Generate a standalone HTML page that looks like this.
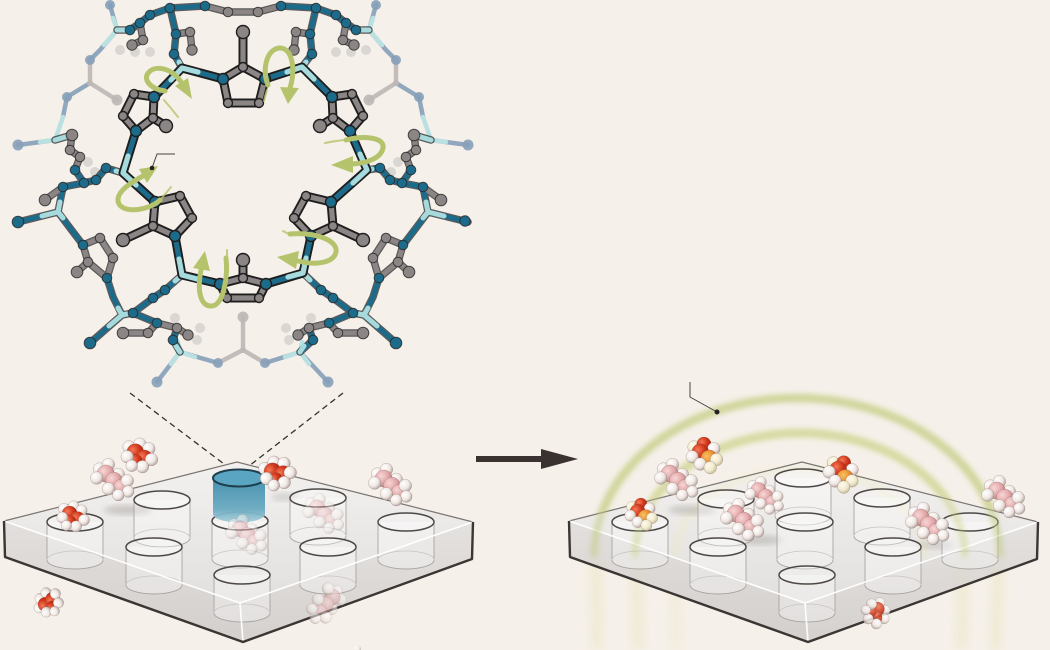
<!DOCTYPE html>
<html><head><meta charset="utf-8"><style>
html,body{margin:0;padding:0;background:#f6f0ea;overflow:hidden}
svg{display:block}
</style></head><body>
<svg width="1050" height="650" viewBox="0 0 1050 650" xmlns="http://www.w3.org/2000/svg">
<defs>
 <radialGradient id="gO" cx="35%" cy="35%" r="70%"><stop offset="0" stop-color="#f47a58"/><stop offset=".55" stop-color="#d2361a"/><stop offset="1" stop-color="#9a2210"/></radialGradient>
 <radialGradient id="gH" cx="35%" cy="35%" r="70%"><stop offset="0" stop-color="#ffffff"/><stop offset=".6" stop-color="#f0e8e4"/><stop offset="1" stop-color="#b4a6a1"/></radialGradient>
 <radialGradient id="gP" cx="35%" cy="35%" r="70%"><stop offset="0" stop-color="#f8d6d6"/><stop offset=".6" stop-color="#e2a7a9"/><stop offset="1" stop-color="#b27a7c"/></radialGradient>
 <radialGradient id="gY" cx="35%" cy="35%" r="70%"><stop offset="0" stop-color="#f9c462"/><stop offset=".6" stop-color="#e8862a"/><stop offset="1" stop-color="#bb5812"/></radialGradient>
 <radialGradient id="gHy" cx="35%" cy="35%" r="70%"><stop offset="0" stop-color="#fffbea"/><stop offset=".6" stop-color="#f1ead0"/><stop offset="1" stop-color="#c6bc96"/></radialGradient>
 <linearGradient id="topF" x1="0" y1="0" x2="0" y2="1"><stop offset="0" stop-color="#f3f1ef"/><stop offset="1" stop-color="#e2e0de"/></linearGradient>
 <linearGradient id="sideL" x1="0" y1="0" x2="0" y2="1"><stop offset="0" stop-color="#e2dfdd"/><stop offset="1" stop-color="#d3cfcd"/></linearGradient>
 <linearGradient id="sideR" x1="0" y1="0" x2="0" y2="1"><stop offset="0" stop-color="#e4e1df"/><stop offset="1" stop-color="#d5d1cf"/></linearGradient>
 <linearGradient id="blueC" x1="0" y1="0" x2="0" y2="1"><stop offset="0" stop-color="#3f8dac"/><stop offset=".7" stop-color="#6aaac2"/><stop offset="1" stop-color="#a9cfdb"/></linearGradient>
 <filter id="blur3" x="-20%" y="-20%" width="140%" height="140%"><feGaussianBlur stdDeviation="3"/></filter>
 <filter id="blur5" x="-20%" y="-20%" width="140%" height="140%"><feGaussianBlur stdDeviation="5"/></filter>
 <g id="cyl">
  <path d="M-28,0 L-28,38 A28,9 0 0 0 28,38 L28,0" fill="rgba(255,255,255,0.32)" stroke="#a8a4a2" stroke-width="0.9"/>
  <path d="M-28,38 A28,9 0 0 1 28,38" fill="none" stroke="#c8c4c2" stroke-width="0.8"/>
  <ellipse cx="0" cy="0" rx="28" ry="9" fill="rgba(255,255,255,0.3)" stroke="#4d4846" stroke-width="1.5"/>
 </g>
 <g id="mA" stroke="#6a4a44" stroke-width="0.5" stroke-opacity="0.45">
  <circle cx="-10" cy="-9" r="7" fill="url(#gH)"/>
  <circle cx="2" cy="-12" r="7" fill="url(#gH)"/>
  <circle cx="12" cy="-7" r="7" fill="url(#gH)"/>
  <circle cx="-3" cy="-3" r="9.5" fill="url(#gO)"/>
  <circle cx="7" cy="4" r="9.5" fill="url(#gO)"/>
  <circle cx="-3" cy="7" r="8" fill="url(#gO)"/>
  <circle cx="-12" cy="2" r="7" fill="url(#gH)"/>
  <circle cx="15" cy="5" r="7" fill="url(#gH)"/>
  <circle cx="5" cy="13" r="7" fill="url(#gH)"/>
  <circle cx="-7" cy="12" r="6.5" fill="url(#gH)"/>
 </g>
 <g id="mB" stroke="#6a4a44" stroke-width="0.5" stroke-opacity="0.45">
  <circle cx="-14" cy="-10" r="7" fill="url(#gH)"/>
  <circle cx="-4" cy="-15" r="7" fill="url(#gH)"/>
  <circle cx="7" cy="-4" r="7" fill="url(#gH)"/>
  <circle cx="-7" cy="-5" r="9.5" fill="url(#gP)"/>
  <circle cx="2" cy="3" r="9.5" fill="url(#gP)"/>
  <circle cx="10" cy="10" r="8.5" fill="url(#gP)"/>
  <circle cx="-17" cy="0" r="7" fill="url(#gH)"/>
  <circle cx="17" cy="3" r="7" fill="url(#gH)"/>
  <circle cx="-4" cy="12" r="7" fill="url(#gH)"/>
  <circle cx="18" cy="15" r="6.5" fill="url(#gH)"/>
  <circle cx="7" cy="19" r="6.5" fill="url(#gH)"/>
 </g>
 <g id="mC" stroke="#6a4a44" stroke-width="0.5" stroke-opacity="0.45">
  <circle cx="-10" cy="-9" r="7" fill="url(#gHy)"/>
  <circle cx="1" cy="-12" r="8" fill="url(#gO)"/>
  <circle cx="12" cy="-7" r="7" fill="url(#gH)"/>
  <circle cx="-3" cy="-3" r="9.5" fill="url(#gO)"/>
  <circle cx="7" cy="4" r="9.5" fill="url(#gY)"/>
  <circle cx="-12" cy="2" r="7" fill="url(#gH)"/>
  <circle cx="15" cy="5" r="7" fill="url(#gHy)"/>
  <circle cx="-3" cy="10" r="7" fill="url(#gH)"/>
  <circle cx="8" cy="14" r="7" fill="url(#gHy)"/>
 </g>
 <g id="slab">
  <polygon points="4,521 240,603 243,642 5,557" fill="url(#sideL)"/>
  <polygon points="240,603 473,522 472,559 243,642" fill="url(#sideR)"/>
  <polygon points="4,521 237,462 473,522 240,603" fill="url(#topF)"/>
 </g>
 <g id="slabEdges">
  <path d="M4,521 L237,462 L473,522" fill="none" stroke="#7a7472" stroke-width="1.2"/>
  <path d="M4,521 L240,603 L473,522 M240,603 L243,642" fill="none" stroke="#ffffff" stroke-width="1.6" opacity="0.95"/>
  <path d="M4,521 L5,557 L243,642 L472,559 L473,522" fill="none" stroke="#3b3533" stroke-width="2.4" stroke-linejoin="round"/>
 </g>
</defs>

<rect width="1050" height="650" fill="#f6f0ea"/>

<!-- ===== BACK LAYER of framework ===== -->
<g fill="none" stroke-linecap="round" stroke-linejoin="round" stroke-width="4.5" opacity="0.9">
 <path stroke="#87a0b9" d="M117,30L100,50L90,60 M90,83L67,97L63,117 M55,140L18,145 M117,30L110,5 M369,30L386,50L396,60 M396,83L419,97L423,117 M431,140L468,145 M369,30L376,5 M180,352L218,363 M265,363L300,352 M180,352L157,382 M300,352L328,382"/>
 <path stroke="#bdb8b6" d="M90,60L90,83L117,100 M396,60L396,83L369,100 M218,363L243,350L265,363 M243,350L243,317"/>
 <path stroke="#b4e0e2" d="M117,30L104,45 M117,30L113,18 M63,117L55,140L40,142 M369,30L382,45 M369,30L373,18 M423,117L431,140L446,142 M180,352L195,357 M180,352L171,364 M180,352L178,342 M300,352L285,357 M300,352L309,364 M300,352L302,342"/>
</g>
<g opacity="0.9">
 <g fill="#87a0b9"><circle cx="90" cy="60" r="5"/><circle cx="67" cy="97" r="5"/><circle cx="18" cy="145" r="5.5"/><circle cx="110" cy="5" r="5"/><circle cx="396" cy="60" r="5"/><circle cx="419" cy="97" r="5"/><circle cx="468" cy="145" r="5.5"/><circle cx="376" cy="5" r="5"/><circle cx="218" cy="363" r="5"/><circle cx="265" cy="363" r="5"/><circle cx="157" cy="382" r="5.5"/><circle cx="328" cy="382" r="5.5"/></g>
 <g fill="#bdb8b6"><circle cx="117" cy="100" r="5.5"/><circle cx="369" cy="100" r="5.5"/><circle cx="243" cy="317" r="5.5"/><circle cx="90" cy="83" r="3"/><circle cx="396" cy="83" r="3"/><circle cx="243" cy="350" r="3"/></g>
</g>
<g fill="#c9c5c3" opacity="0.6">
 <circle cx="120" cy="50" r="5"/><circle cx="135" cy="52" r="5"/><circle cx="150" cy="52" r="5"/>
 <circle cx="336" cy="52" r="5"/><circle cx="351" cy="52" r="5"/><circle cx="366" cy="50" r="5"/>
 <circle cx="175" cy="318" r="5"/><circle cx="197" cy="340" r="5"/><circle cx="200" cy="328" r="5"/>
 <circle cx="311" cy="318" r="5"/><circle cx="289" cy="340" r="5"/><circle cx="286" cy="328" r="5"/>
 <circle cx="88" cy="162" r="5"/><circle cx="95" cy="172" r="5"/><circle cx="398" cy="162" r="5"/><circle cx="391" cy="172" r="5"/>
</g>

<!-- ===== MID LAYER ===== -->
<g fill="none" stroke-linecap="round" stroke-linejoin="round">
 <path stroke="#2a2a2a" stroke-opacity="0.75" stroke-width="7.5" d="M182,68L174,54L176,34L170,8L150,15L140,23L130,30L117,30 M302,67L312,54L310,34L316,8L336,15L346,23L356,30L369,30 M170,8L205,6L228,12L258,12L281,6L316,8 M176,34L190,32L192,50 M310,34L296,32L294,50 M140,23L143,40L132,45 M346,23L343,40L354,45 M123,173L106,168L96,180L84,183L75,170L80,157L70,150L72,135L55,140 M84,183L63,187L58,212 M63,187L45,200 M58,212L18,222 M58,212L70,228L83,245L100,238L113,258L107,278L88,262L83,245 M88,262L77,272 M107,278L113,297L122,315 M122,315L90,343 M122,315L133,313L153,298L165,290L182,275 M133,313L157,323L148,333L123,333 M157,323L177,328L188,335 M177,328L173,340L180,352 M367,170L380,168L390,180L402,183L411,170L406,157L416,150L414,135L431,140 M402,183L423,187L428,212 M423,187L441,200 M428,212L468,222 M428,212L416,228L403,245L386,238L373,258L379,278L398,262L403,245 M398,262L409,272 M379,278L373,297L364,315 M364,315L396,343 M364,315L353,313L333,298L321,290L303,273 M353,313L329,323L338,333L363,333 M329,323L309,328L298,335 M309,328L313,340L300,352"/>
 <path stroke="#1d6b8a" stroke-width="5" d="M182,68L174,54L176,34L170,8L150,15L140,23L130,30 M302,67L312,54L310,34L316,8L336,15L346,23L356,30 M170,8L205,6 M281,6L316,8 M123,173L106,168L96,180L84,183L75,170 M84,183L63,187L58,212 M58,212L18,222 M58,212L70,228L83,245 M107,278L113,297L122,315 M122,315L90,343 M122,315L133,313L153,298L165,290L182,275 M133,313L157,323 M177,328L173,340L180,352 M367,170L380,168L390,180L402,183L411,170 M402,183L423,187L428,212 M428,212L468,222 M428,212L416,228L403,245 M379,278L373,297L364,315 M364,315L396,343 M364,315L353,313L333,298L321,290L303,273 M353,313L329,323 M309,328L313,340L300,352"/>
 <path stroke="#8b8685" stroke-width="5" d="M176,34L190,32L192,50 M310,34L296,32L294,50 M140,23L143,40L132,45 M346,23L343,40L354,45 M205,6L228,12L258,12L281,6 M75,170L80,157L70,150L72,135 M63,187L45,200 M83,245L100,238L113,258L107,278L88,262L83,245 M88,262L77,272 M157,323L148,333L123,333 M157,323L177,328L188,335 M411,170L406,157L416,150L414,135 M423,187L441,200 M403,245L386,238L373,258L379,278L398,262L403,245 M398,262L409,272 M329,323L338,333L363,333 M329,323L309,328L298,335"/>
 <path stroke="#a6dadd" stroke-width="5" d="M130,30L117,30 M356,30L369,30 M72,135L55,140 M414,135L431,140 M60,202L58,212L42,216 M58,212L63,218 M118,308L122,315L109,326 M122,315L127,314 M426,202L428,212L444,216 M428,212L423,218 M368,308L364,315L377,326 M364,315L359,314 M176,346L180,352 M304,346L300,352 M179,62L182,68 M306,62L302,67 M372,169L367,170 M310,280L303,273 M175,281L182,275 M116,171L123,173"/>
</g>
<g stroke="#262626" stroke-width="1" stroke-opacity="0.8">
 <g fill="#1d6b8a">
  <circle cx="174" cy="54" r="4.8"/><circle cx="176" cy="34" r="4.8"/><circle cx="170" cy="8" r="4.8"/><circle cx="312" cy="54" r="4.8"/><circle cx="310" cy="34" r="4.8"/><circle cx="316" cy="8" r="4.8"/><circle cx="150" cy="15" r="4.8"/><circle cx="140" cy="23" r="4.8"/><circle cx="130" cy="30" r="4.8"/><circle cx="336" cy="15" r="4.8"/><circle cx="346" cy="23" r="4.8"/><circle cx="356" cy="30" r="4.8"/><circle cx="205" cy="6" r="4.8"/><circle cx="281" cy="6" r="4.8"/>
  <circle cx="106" cy="168" r="4.8"/><circle cx="96" cy="180" r="4.8"/><circle cx="84" cy="183" r="4.8"/><circle cx="75" cy="170" r="4.8"/><circle cx="63" cy="187" r="4.8"/><circle cx="18" cy="222" r="5.8"/><circle cx="83" cy="245" r="4.8"/><circle cx="107" cy="278" r="4.8"/><circle cx="90" cy="343" r="5.8"/><circle cx="133" cy="313" r="4.8"/><circle cx="153" cy="298" r="4.8"/><circle cx="165" cy="290" r="4.8"/><circle cx="157" cy="323" r="4.8"/><circle cx="173" cy="340" r="4.8"/>
  <circle cx="380" cy="168" r="4.8"/><circle cx="390" cy="180" r="4.8"/><circle cx="402" cy="183" r="4.8"/><circle cx="411" cy="170" r="4.8"/><circle cx="423" cy="187" r="4.8"/><circle cx="465" cy="221" r="5.2"/><circle cx="403" cy="245" r="4.8"/><circle cx="379" cy="278" r="4.8"/><circle cx="396" cy="343" r="5.8"/><circle cx="353" cy="313" r="4.8"/><circle cx="333" cy="298" r="4.8"/><circle cx="321" cy="290" r="4.8"/><circle cx="329" cy="323" r="4.8"/><circle cx="313" cy="340" r="4.8"/>
 </g>
 <g fill="#8b8685">
  <circle cx="190" cy="32" r="4.8"/><circle cx="192" cy="50" r="5.2"/><circle cx="296" cy="32" r="4.8"/><circle cx="294" cy="50" r="5.2"/><circle cx="143" cy="40" r="4.8"/><circle cx="132" cy="45" r="5.2"/><circle cx="343" cy="40" r="4.8"/><circle cx="354" cy="45" r="5.2"/><circle cx="228" cy="12" r="4.8"/><circle cx="258" cy="12" r="4.8"/>
  <circle cx="80" cy="157" r="4.8"/><circle cx="70" cy="150" r="4.8"/><circle cx="72" cy="135" r="5.8"/><circle cx="45" cy="200" r="5.8"/><circle cx="100" cy="238" r="4.8"/><circle cx="113" cy="258" r="4.8"/><circle cx="88" cy="262" r="4.8"/><circle cx="77" cy="272" r="5.8"/><circle cx="148" cy="333" r="4.8"/><circle cx="123" cy="333" r="5.8"/><circle cx="177" cy="328" r="4.8"/><circle cx="188" cy="335" r="5.2"/>
  <circle cx="406" cy="157" r="4.8"/><circle cx="416" cy="150" r="4.8"/><circle cx="414" cy="135" r="5.8"/><circle cx="441" cy="200" r="5.8"/><circle cx="386" cy="238" r="4.8"/><circle cx="373" cy="258" r="4.8"/><circle cx="398" cy="262" r="4.8"/><circle cx="409" cy="272" r="5.8"/><circle cx="338" cy="333" r="4.8"/><circle cx="363" cy="333" r="5.8"/><circle cx="309" cy="328" r="4.8"/><circle cx="298" cy="335" r="5.2"/>
 </g>
</g>

<!-- ===== FRONT RING ===== -->
<g fill="none" stroke-linecap="round" stroke-linejoin="round">
 <path stroke="#1e1e1e" stroke-width="9" d="M182,68L223,79 M302,67L265,79 M302,67L332,97 M350,131L367,170 M182,68L154,97 M136,131L123,173 M367,170L331,202 M311,236L303,273 M123,173L155,202 M175,236L182,275 M182,275L220,284 M266,284L303,273 M223,79L243,67L265,79L259,103L228,103Z M243,67L243,32 M332,97L352,94L363,116L350,131L333,118Z M333,118L320,126 M154,97L134,94L123,116L136,131L153,118Z M153,118L166,126 M331,202L333,226L311,236L294,218L306,196Z M333,226L363,240 M155,202L153,226L175,236L192,218L180,196Z M153,226L123,240 M220,284L243,278L266,284L259,298L227,298Z M243,278L243,260"/>
 <path stroke="#8b8685" stroke-width="5.2" d="M223,79L243,67L265,79L259,103L228,103Z M243,67L243,32 M332,97L352,94L363,116L350,131L333,118Z M333,118L320,126 M154,97L134,94L123,116L136,131L153,118Z M153,118L166,126 M331,202L333,226L311,236L294,218L306,196Z M333,226L363,240 M155,202L153,226L175,236L192,218L180,196Z M153,226L123,240 M220,284L243,278L266,284L259,298L227,298Z M243,278L243,260"/>
 <path stroke="#1d6b8a" stroke-width="5.2" d="M182,68L223,79 M302,67L265,79 M302,67L332,97 M350,131L367,170 M182,68L154,97 M136,131L123,173 M367,170L331,202 M311,236L303,273 M123,173L155,202 M175,236L182,275 M182,275L220,284 M266,284L303,273"/>
 <path stroke="#a6dadd" stroke-width="5.2" d="M198,72L182,68L171,80 M287,72L302,67L314,79 M360,154L367,170L353,183 M306,258L303,273L288,277 M179,259L182,275L197,279 M128,156L123,173L136,185"/>
</g>
<g stroke="#1e1e1e" stroke-width="1.4">
 <g fill="#1d6b8a">
  <circle cx="223" cy="79" r="5.5"/><circle cx="265" cy="79" r="5.5"/><circle cx="332" cy="97" r="5.5"/><circle cx="350" cy="131" r="5.5"/><circle cx="154" cy="97" r="5.5"/><circle cx="136" cy="131" r="5.5"/><circle cx="331" cy="202" r="5.5"/><circle cx="311" cy="236" r="5.5"/><circle cx="155" cy="202" r="5.5"/><circle cx="175" cy="236" r="5.5"/><circle cx="220" cy="284" r="5.5"/><circle cx="266" cy="284" r="5.5"/>
 </g>
 <g fill="#8b8685">
  <circle cx="243" cy="67" r="4.5"/><circle cx="259" cy="103" r="4.5"/><circle cx="228" cy="103" r="4.5"/><circle cx="352" cy="94" r="4.5"/><circle cx="363" cy="116" r="4.5"/><circle cx="333" cy="118" r="4.5"/><circle cx="134" cy="94" r="4.5"/><circle cx="123" cy="116" r="4.5"/><circle cx="153" cy="118" r="4.5"/><circle cx="333" cy="226" r="4.5"/><circle cx="294" cy="218" r="4.5"/><circle cx="306" cy="196" r="4.5"/><circle cx="153" cy="226" r="4.5"/><circle cx="192" cy="218" r="4.5"/><circle cx="180" cy="196" r="4.5"/><circle cx="243" cy="278" r="4.5"/><circle cx="259" cy="298" r="4.5"/><circle cx="227" cy="298" r="4.5"/>
  <circle cx="243" cy="32" r="6.5"/><circle cx="320" cy="126" r="6.5"/><circle cx="166" cy="126" r="6.5"/><circle cx="363" cy="240" r="6.5"/><circle cx="123" cy="240" r="6.5"/><circle cx="243" cy="260" r="6.5"/>
 </g>
</g>

<!-- rotation arrows -->
<g fill="none" stroke="#b5c46c" stroke-width="5" stroke-linecap="round">
 <path d="M165,91 C150,89 142,79 149,72 C156,65 172,68 181,82"/>
 <path d="M268,85 C262,70 266,50 279,48 C292,47 296,68 290,88"/>
 <path d="M346,140 C366,135 385,138 383,148 C381,158 368,163 352,164"/>
 <path d="M290,234 C315,232 338,240 336,252 C334,262 318,266 298,261"/>
 <path d="M226,258 C228,275 224,305 212,306 C200,307 197,290 201,270"/>
 <path d="M160,200 C150,210 125,214 119,204 C114,194 128,184 143,176"/>
</g>
<g fill="none" stroke="#b5c46c" stroke-width="2" stroke-linecap="round" opacity="0.8">
 <path d="M164,100 Q171,108 178,117"/><path d="M267,90 Q265,96 264,101"/><path d="M344,140 Q334,141 325,143"/><path d="M290,234 Q286,233 283,231"/><path d="M227,256 Q227,253 227,250"/><path d="M161,199 Q166,193 171,187"/>
</g>
<g fill="#b5c46c">
 <polygon points="175,86 188,78 192,99"/>
 <polygon points="280,87 299,88 288,104"/>
 <polygon points="353,156 353,173 331,165"/>
 <polygon points="299,251 296,269 277,257"/>
 <polygon points="193,268 210,271 205,251"/>
 <polygon points="139,169 147,183 158,166"/>
</g>
<path d="M175,154 L157,154 L152,168" fill="none" stroke="#444" stroke-width="1"/>
<circle cx="152" cy="168" r="2.3" fill="#222"/>

<!-- dashed projection -->
<path d="M130,393 L236,473 M343,393 L240,473" fill="none" stroke="#333" stroke-width="1.3" stroke-dasharray="6 4"/>

<!-- ===== LEFT SLAB ===== -->
<use href="#slab"/>
<ellipse cx="128" cy="510" rx="24" ry="5" fill="#6f6a68" opacity="0.28" filter="url(#blur3)"/>
<ellipse cx="285" cy="497" rx="14" ry="4" fill="#6f6a68" opacity="0.2" filter="url(#blur3)"/>
<use href="#cyl" transform="translate(162,500)"/>
<use href="#cyl" transform="translate(318,498)"/>
<use href="#cyl" transform="translate(75,522)"/>
<use href="#cyl" transform="translate(240,521)"/>
<use href="#cyl" transform="translate(406,522)"/>
<use href="#cyl" transform="translate(154,547)"/>
<use href="#cyl" transform="translate(328,547)"/>
<use href="#cyl" transform="translate(242,575)"/>
<path d="M213,478 L213,514 A26,8.5 0 0 0 265,514 L265,478 Z" fill="url(#blueC)" opacity="0.95"/>
<ellipse cx="239" cy="478" rx="26" ry="8.5" fill="#5aa6c2" stroke="#1f3f4e" stroke-width="2"/>
<use href="#mB" transform="translate(323,512) scale(.85)" opacity="0.45"/>
<use href="#mB" transform="translate(246,533) scale(.85)" opacity="0.5"/>
<use href="#slabEdges"/>
<use href="#mB" transform="translate(328,603) scale(.85) rotate(90)" opacity="0.55"/>
<circle cx="357" cy="649" r="4" fill="url(#gH)" opacity="0.7"/>
<use href="#mA" transform="translate(138,455) scale(.9)"/>
<use href="#mB" transform="translate(112,478) scale(.9)"/>
<use href="#mA" transform="translate(72,516) scale(.8)"/>
<use href="#mA" transform="translate(276,473) scale(.9) rotate(-20)"/>
<use href="#mB" transform="translate(390,483) scale(.9)"/>
<use href="#mA" transform="translate(48,603) scale(.75) rotate(-70)"/>

<!-- ===== ARROW ===== -->
<rect x="476" y="456" width="67" height="6" fill="#3a3230"/>
<polygon points="541,449 578,459 541,469" fill="#3a3230"/>

<!-- ===== RIGHT SLAB ===== -->
<g opacity="0.5" filter="url(#blur3)" fill="none" stroke-linecap="round">
 <path d="M594,557 A203,159 0 0 1 1000,557" stroke="#c8d18a" stroke-width="8"/>
 <path d="M635,557 A165,124 0 0 1 965,557" stroke="#ccd48e" stroke-width="8"/>
</g>
<g opacity="0.18" filter="url(#blur5)" fill="none">
 <path d="M596,650 L594,557 M996,650 L1000,557 M637,650 L635,557 M962,650 L965,557 M676,650 L675,557" stroke="#dcdc90" stroke-width="10"/>
</g>
<g transform="translate(565,0)">
 <use href="#slab"/>
</g>
<g opacity="0.3" filter="url(#blur3)" fill="none">
 <path d="M635,557 A165,124 0 0 1 965,557" stroke="#dcdf9e" stroke-width="7"/>
 <path d="M675,557 A125,88 0 0 1 925,557" stroke="#ecebb0" stroke-width="7"/>
</g>
<g opacity="0.12" filter="url(#blur5)" fill="none">
 <path d="M599,650 L598,560 M994,650 L996,560 M640,650 L638,560 M960,650 L962,560" stroke="#d8d890" stroke-width="10"/>
</g>
<ellipse cx="692" cy="510" rx="24" ry="5" fill="#6f6a68" opacity="0.25" filter="url(#blur3)"/>
<ellipse cx="760" cy="540" rx="22" ry="5" fill="#6f6a68" opacity="0.25" filter="url(#blur3)"/>
<ellipse cx="935" cy="545" rx="18" ry="4" fill="#6f6a68" opacity="0.2" filter="url(#blur3)"/>
<use href="#cyl" transform="translate(803,478)"/>
<use href="#cyl" transform="translate(726,499)"/>
<use href="#cyl" transform="translate(882,498)"/>
<use href="#cyl" transform="translate(640,522)"/>
<use href="#cyl" transform="translate(805,522)"/>
<use href="#cyl" transform="translate(970,522)"/>
<use href="#cyl" transform="translate(718,547)"/>
<use href="#cyl" transform="translate(893,547)"/>
<use href="#cyl" transform="translate(807,575)"/>
<g transform="translate(565,0)"><use href="#slabEdges"/></g>
<g opacity="0.7" filter="url(#blur3)" fill="none">
 <path d="M594,557 A203,159 0 0 1 1000,557" stroke="#c4cd84" stroke-width="6"/>
 <path d="M635,557 A165,124 0 0 1 965,557" stroke="#c9d088" stroke-width="5" opacity="0.8"/>
</g>
<use href="#mA" transform="translate(876,612) scale(.75) rotate(70)" opacity="0.85"/>
<use href="#mC" transform="translate(703,455) scale(.9)"/>
<use href="#mB" transform="translate(676,478) scale(.9)"/>
<use href="#mC" transform="translate(640,514) scale(.8)"/>
<use href="#mB" transform="translate(764,494) scale(.8)"/>
<use href="#mB" transform="translate(742,518) scale(.9)"/>
<use href="#mC" transform="translate(840,473) scale(.9) rotate(15)"/>
<use href="#mB" transform="translate(927,522) scale(.9)"/>
<use href="#mB" transform="translate(1003,495) scale(.9)"/>
<path d="M690,382 L690,397 L717,412" fill="none" stroke="#444" stroke-width="1"/>
<circle cx="717" cy="412" r="2.5" fill="#222"/>
</svg>
</body></html>
